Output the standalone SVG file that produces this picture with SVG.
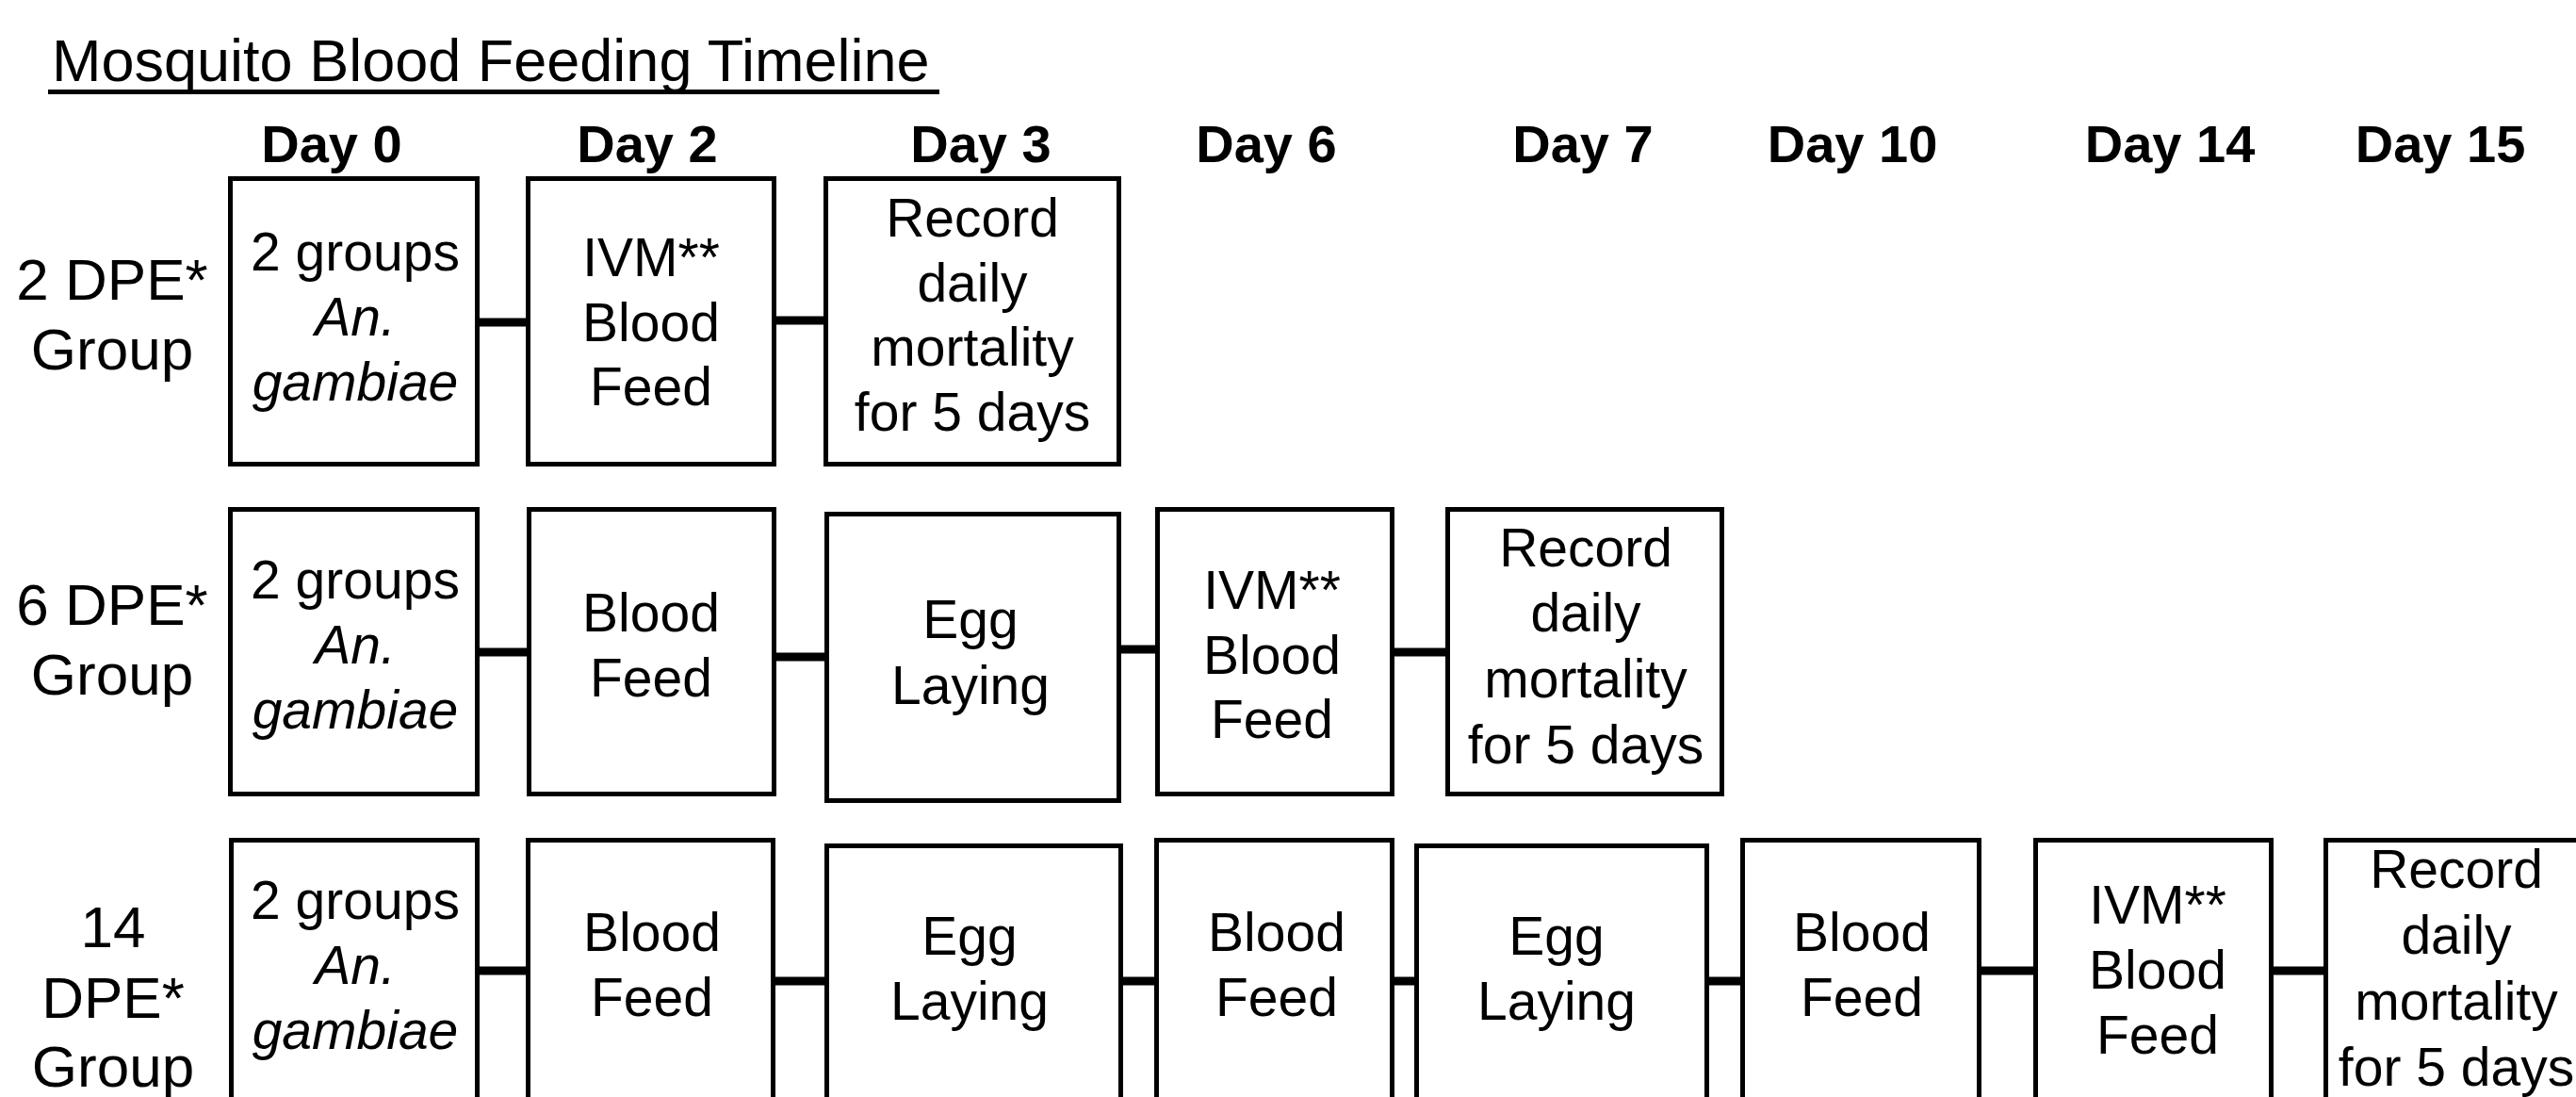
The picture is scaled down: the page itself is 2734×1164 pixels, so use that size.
<svg xmlns="http://www.w3.org/2000/svg" width="2734" height="1164" viewBox="0 0 2734 1164">
<style>
text{font-family:"Liberation Sans",Arial,Helvetica,sans-serif;fill:#000}
.title{font-size:63px}
.day{font-size:56px;font-weight:bold;text-anchor:middle}
.lbl{font-size:62px;text-anchor:middle}
.t{font-size:57px;text-anchor:middle}
.i{font-style:italic}
.box{fill:#fff;stroke:#000;stroke-width:5}
.con{stroke:#000;stroke-width:9;fill:none}
</style>
<rect width="2734" height="1164" fill="#fff"/>
<g id="title">
<text class="title" x="55" y="86">Mosquito Blood Feeding Timeline</text>
<rect x="51" y="95" width="946" height="5" fill="#000"/>
</g>
<g id="days">
<text class="day" x="352" y="172">Day 0</text>
<text class="day" x="687" y="172">Day 2</text>
<text class="day" x="1041" y="172">Day 3</text>
<text class="day" x="1344" y="172">Day 6</text>
<text class="day" x="1680" y="172">Day 7</text>
<text class="day" x="1966" y="172">Day 10</text>
<text class="day" x="2303" y="172">Day 14</text>
<text class="day" x="2590" y="172">Day 15</text>
</g>
<g id="row-labels">
<text class="lbl" x="119" y="318">2 DPE*</text>
<text class="lbl" x="119" y="392">Group</text>
<text class="lbl" x="119" y="663">6 DPE*</text>
<text class="lbl" x="119" y="737">Group</text>
<text class="lbl" x="120" y="1005">14</text>
<text class="lbl" x="120" y="1080">DPE*</text>
<text class="lbl" x="120" y="1153">Group</text>
</g>
<g id="connectors">
<line class="con" x1="509" y1="342" x2="558" y2="342"/>
<line class="con" x1="824" y1="340" x2="874" y2="340"/>
<line class="con" x1="509" y1="692" x2="559" y2="692"/>
<line class="con" x1="824" y1="697" x2="875" y2="697"/>
<line class="con" x1="1190" y1="689" x2="1226" y2="689"/>
<line class="con" x1="1480" y1="692" x2="1534" y2="692"/>
<line class="con" x1="509" y1="1030" x2="558" y2="1030"/>
<line class="con" x1="823" y1="1041" x2="875" y2="1041"/>
<line class="con" x1="1192" y1="1041" x2="1225" y2="1041"/>
<line class="con" x1="1480" y1="1041" x2="1501" y2="1041"/>
<line class="con" x1="1814" y1="1041" x2="1847" y2="1041"/>
<line class="con" x1="2103" y1="1030" x2="2158" y2="1030"/>
<line class="con" x1="2413" y1="1030" x2="2466" y2="1030"/>
</g>
<!-- Row 1: 2 DPE -->
<g id="r1-d0">
<rect class="box" x="244.5" y="189.5" width="262" height="303"/>
<text class="t" x="377" y="287">2 groups</text>
<text class="t i" x="377" y="356">An.</text>
<text class="t i" x="377" y="425">gambiae</text>
</g>
<g id="r1-d2">
<rect class="box" x="560.5" y="189.5" width="261" height="303"/>
<text class="t" x="691" y="293">IVM**</text>
<text class="t" x="691" y="362">Blood</text>
<text class="t" x="691" y="430">Feed</text>
</g>
<g id="r1-d3">
<rect class="box" x="876.5" y="189.5" width="311" height="303"/>
<text class="t" x="1032" y="251">Record</text>
<text class="t" x="1032" y="320">daily</text>
<text class="t" x="1032" y="388">mortality</text>
<text class="t" x="1032" y="457">for 5 days</text>
</g>
<!-- Row 2: 6 DPE -->
<g id="r2-d0">
<rect class="box" x="244.5" y="540.5" width="262" height="302"/>
<text class="t" x="377" y="635">2 groups</text>
<text class="t i" x="377" y="704">An.</text>
<text class="t i" x="377" y="773">gambiae</text>
</g>
<g id="r2-d2">
<rect class="box" x="561.5" y="540.5" width="260" height="302"/>
<text class="t" x="691" y="670">Blood</text>
<text class="t" x="691" y="739">Feed</text>
</g>
<g id="r2-d3">
<rect class="box" x="877.5" y="545.5" width="310" height="304"/>
<text class="t" x="1030" y="677">Egg</text>
<text class="t" x="1030" y="747">Laying</text>
</g>
<g id="r2-d6">
<rect class="box" x="1228.5" y="540.5" width="249" height="302"/>
<text class="t" x="1350" y="646">IVM**</text>
<text class="t" x="1350" y="715">Blood</text>
<text class="t" x="1350" y="783">Feed</text>
</g>
<g id="r2-d7">
<rect class="box" x="1536.5" y="540.5" width="291" height="302"/>
<text class="t" x="1683" y="601">Record</text>
<text class="t" x="1683" y="670">daily</text>
<text class="t" x="1683" y="740">mortality</text>
<text class="t" x="1683" y="810">for 5 days</text>
</g>
<!-- Row 3: 14 DPE -->
<g id="r3-d0">
<rect class="box" x="245.5" y="891.5" width="261" height="320"/>
<text class="t" x="377" y="975">2 groups</text>
<text class="t i" x="377" y="1044">An.</text>
<text class="t i" x="377" y="1113">gambiae</text>
</g>
<g id="r3-d2">
<rect class="box" x="560.5" y="891.5" width="260" height="320"/>
<text class="t" x="692" y="1009">Blood</text>
<text class="t" x="692" y="1078">Feed</text>
</g>
<g id="r3-d3">
<rect class="box" x="877.5" y="897.5" width="312" height="320"/>
<text class="t" x="1029" y="1013">Egg</text>
<text class="t" x="1029" y="1082">Laying</text>
</g>
<g id="r3-d6">
<rect class="box" x="1227.5" y="891.5" width="250" height="320"/>
<text class="t" x="1355" y="1009">Blood</text>
<text class="t" x="1355" y="1078">Feed</text>
</g>
<g id="r3-d7">
<rect class="box" x="1503.5" y="897.5" width="308" height="320"/>
<text class="t" x="1652" y="1013">Egg</text>
<text class="t" x="1652" y="1082">Laying</text>
</g>
<g id="r3-d10">
<rect class="box" x="1849.5" y="891.5" width="251" height="320"/>
<text class="t" x="1976" y="1009">Blood</text>
<text class="t" x="1976" y="1078">Feed</text>
</g>
<g id="r3-d14">
<rect class="box" x="2160.5" y="891.5" width="250" height="320"/>
<text class="t" x="2290" y="980">IVM**</text>
<text class="t" x="2290" y="1049">Blood</text>
<text class="t" x="2290" y="1118">Feed</text>
</g>
<g id="r3-d15">
<rect class="box" x="2468.5" y="891.5" width="280" height="320"/>
<text class="t" x="2607" y="942">Record</text>
<text class="t" x="2607" y="1012">daily</text>
<text class="t" x="2607" y="1082">mortality</text>
<text class="t" x="2607" y="1152">for 5 days</text>
</g>
</svg>
